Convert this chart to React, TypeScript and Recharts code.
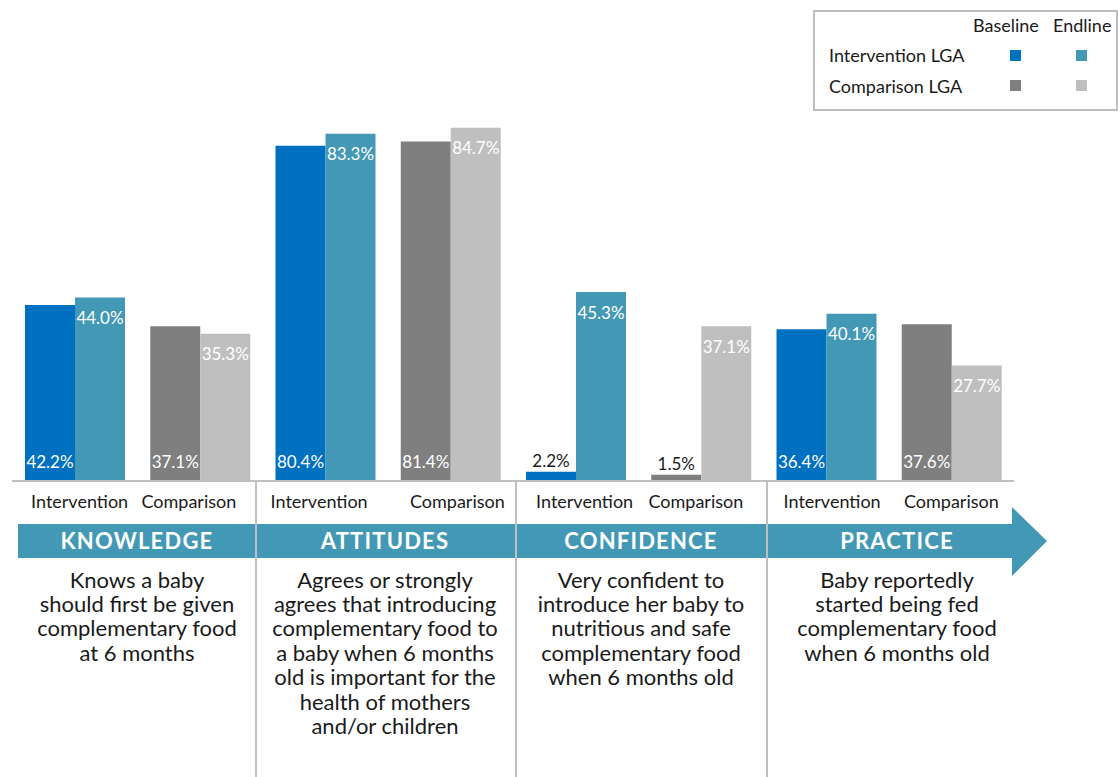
import React from "react"
import { BarChart, Bar, XAxis, YAxis, Cell, LabelList } from "recharts"

const FONT = "Lato, 'Open Sans', sans-serif"

const groups = ["KNOWLEDGE", "ATTITUDES", "CONFIDENCE", "PRACTICE"]
const arms = ["Intervention", "Comparison"]
const baseline = [42.2, 37.1, 80.4, 81.4, 2.2, 1.5, 36.4, 37.6]
const endline = [44.0, 35.3, 83.3, 84.7, 45.3, 37.1, 40.1, 27.7]

const descriptions = [
  ["Knows a baby", "should first be given", "complementary food", "at 6 months"],
  [
    "Agrees or strongly",
    "agrees that introducing",
    "complementary food to",
    "a baby when 6 months",
    "old is important for the",
    "health of mothers",
    "and/or children",
  ],
  ["Very confident to", "introduce her baby to", "nutritious and safe", "complementary food", "when 6 months old"],
  ["Baby reportedly", "started being fed", "complementary food", "when 6 months old"],
]

const colors = {
  intBase: "#0070c0",
  intEnd: "#4399b5",
  cmpBase: "#7f7f7f",
  cmpEnd: "#bfbfbf",
}

const data = baseline.map((b, i) => ({
  id: `${groups[Math.floor(i / 2)]}-${i}`,
  arm: arms[i % 2],
  baseline: b,
  endline: endline[i],
}))

// layout of the bottom panel
const groupCenters = [137, 385, 641, 897]
const separators = [256, 516, 767]
// the category labels were hand-placed text boxes, nudge them to match
const tickNudge = [5, -11, -6, 7, 9, -5, 6, 0]

function BaseLabel(props: any) {
  const { x, y, width, height, value } = props
  const cx = x + width / 2
  if (value < 5) {
    return (
      <text x={cx} y={y - 11} fill="#1a1a1a" fontSize={17} fontFamily={FONT} textAnchor="middle" dominantBaseline="central">
        {value.toFixed(1)}%
      </text>
    )
  }
  return (
    <text x={cx} y={y + height - 20} fill="#fff" fontSize={17} fontFamily={FONT} textAnchor="middle" dominantBaseline="central">
      {value.toFixed(1)}%
    </text>
  )
}

function EndLabel(props: any) {
  const { x, y, width, value } = props
  return (
    <text x={x + width / 2} y={y + 20} fill="#fff" fontSize={17} fontFamily={FONT} textAnchor="middle" dominantBaseline="central">
      {value.toFixed(1)}%
    </text>
  )
}

function ArmTick(props: any) {
  const { x, y, index } = props
  return (
    <text
      x={x + tickNudge[index]}
      y={y + 12}
      fill="#1a1a1a"
      fontSize={18}
      fontFamily={FONT}
      textAnchor="middle"
      dominantBaseline="central"
    >
      {arms[index % 2]}
    </text>
  )
}

function LegendBox() {
  const sq = (c: string, left: number, top: number) => (
    <div style={{ position: "absolute", left, top, width: 11, height: 11, background: c }} />
  )
  const txt = (t: string, left: number, top: number) => (
    <div style={{ position: "absolute", left, top, fontSize: 18, lineHeight: "20px", color: "#1a1a1a", whiteSpace: "nowrap" }}>{t}</div>
  )
  return (
    <div
      style={{
        position: "absolute",
        left: 813,
        top: 10,
        width: 301,
        height: 97,
        border: "2px solid #bfbfbf",
        fontFamily: FONT,
      }}
    >
      {txt("Baseline", 158, 3)}
      {txt("Endline", 238, 3)}
      {txt("Intervention LGA", 14, 33)}
      {txt("Comparison LGA", 14, 64)}
      {sq(colors.intBase, 195, 38)}
      {sq(colors.intEnd, 261, 38)}
      {sq(colors.cmpBase, 195, 68)}
      {sq(colors.cmpEnd, 261, 68)}
    </div>
  )
}

export default function App() {
  return (
    <div style={{ position: "absolute", left: 0, top: 0, width: 1118, height: 777, background: "#fff", fontFamily: FONT }}>
      <BarChart
        width={1118}
        height={777}
        data={data}
        margin={{ top: 64, right: 104, bottom: 266, left: 12 }}
        barGap={0}
        barSize={50}
      >
        <XAxis
          dataKey="id"
          interval={0}
          tickLine={false}
          height={30}
          axisLine={{ stroke: "#bfbfbf", strokeWidth: 2 }}
          tick={<ArmTick />}
        />
        <YAxis hide domain={[0, 100]} />
        <Bar dataKey="baseline" isAnimationActive={false}>
          {data.map((d, i) => (
            <Cell key={i} fill={i % 2 === 0 ? colors.intBase : colors.cmpBase} />
          ))}
          <LabelList dataKey="baseline" content={BaseLabel} />
        </Bar>
        <Bar dataKey="endline" isAnimationActive={false}>
          {data.map((d, i) => (
            <Cell key={i} fill={i % 2 === 0 ? colors.intEnd : colors.cmpEnd} />
          ))}
          <LabelList dataKey="endline" content={EndLabel} />
        </Bar>
      </BarChart>

      <svg width={1118} height={777} style={{ position: "absolute", left: 0, top: 0, pointerEvents: "none" }}>
        <polygon
          points="18,524 1012,524 1012,507 1047,541 1012,576 1012,558 18,558"
          fill={colors.intEnd}
        />
        {separators.map((x) => (
          <line key={x} x1={x} x2={x} y1={482} y2={777} stroke="#bfbfbf" strokeWidth={2} />
        ))}
        {groups.map((g, i) => (
          <text
            key={g}
            x={groupCenters[i]}
            y={540}
            fill="#fff"
            fontSize={22}
            fontWeight={700}
            fontFamily={FONT}
            letterSpacing={1.2}
            textAnchor="middle"
            dominantBaseline="central"
          >
            {g}
          </text>
        ))}
        {descriptions.map((lines, i) =>
          lines.map((l, j) => (
            <text
              key={`${i}-${j}`}
              x={groupCenters[i]}
              y={579 + j * 24.4}
              fill="#1a1a1a"
              fontSize={22}
              fontFamily={FONT}
              textAnchor="middle"
              dominantBaseline="central"
            >
              {l}
            </text>
          ))
        )}
      </svg>

      <LegendBox />
    </div>
  )
}
